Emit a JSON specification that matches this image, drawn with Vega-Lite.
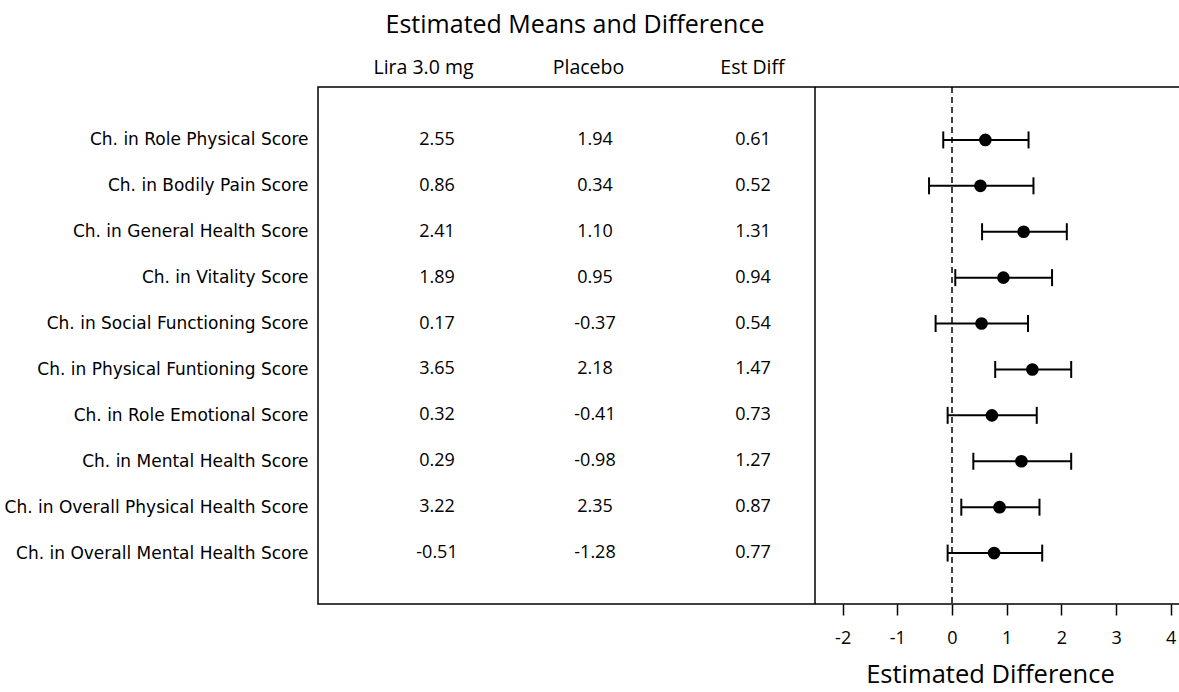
{
  "$schema": "https://vega.github.io/schema/vega-lite/v6.json",
  "width": 862,
  "height": 517,
  "autosize": {"type": "none"},
  "padding": {"left": 318, "top": 87, "right": 0, "bottom": 88},
  "background": "white",
  "title": {
    "text": "Estimated Means and Difference",
    "anchor": "middle",
    "frame": "group",
    "dx": -174,
    "offset": 19,
    "font": "Open Sans",
    "fontSize": 25,
    "fontWeight": "normal",
    "color": "black"
  },
  "config": {
    "locale": {"number": {"decimal": ".", "thousands": ",", "grouping": [3], "currency": ["$", ""], "minus": "-"}},
    "view": {"stroke": "black", "strokeWidth": 1.5},
    "axis": {"grid": false, "labelColor": "black", "titleColor": "black", "tickColor": "black", "domainColor": "black"}
  },
  "data": {
    "values": [
      {"label": "Ch. in Role Physical Score", "lira": 2.55, "placebo": 1.94, "diff": 0.61, "lo": -0.16, "hi": 1.40},
      {"label": "Ch. in Bodily Pain Score", "lira": 0.86, "placebo": 0.34, "diff": 0.52, "lo": -0.42, "hi": 1.49},
      {"label": "Ch. in General Health Score", "lira": 2.41, "placebo": 1.10, "diff": 1.31, "lo": 0.55, "hi": 2.10},
      {"label": "Ch. in Vitality Score", "lira": 1.89, "placebo": 0.95, "diff": 0.94, "lo": 0.06, "hi": 1.83},
      {"label": "Ch. in Social Functioning Score", "lira": 0.17, "placebo": -0.37, "diff": 0.54, "lo": -0.30, "hi": 1.39},
      {"label": "Ch. in Physical Funtioning Score", "lira": 3.65, "placebo": 2.18, "diff": 1.47, "lo": 0.79, "hi": 2.18},
      {"label": "Ch. in Role Emotional Score", "lira": 0.32, "placebo": -0.41, "diff": 0.73, "lo": -0.08, "hi": 1.55},
      {"label": "Ch. in Mental Health Score", "lira": 0.29, "placebo": -0.98, "diff": 1.27, "lo": 0.39, "hi": 2.18},
      {"label": "Ch. in Overall Physical Health Score", "lira": 3.22, "placebo": 2.35, "diff": 0.87, "lo": 0.17, "hi": 1.60},
      {"label": "Ch. in Overall Mental Health Score", "lira": -0.51, "placebo": -1.28, "diff": 0.77, "lo": -0.08, "hi": 1.65}
    ]
  },
  "resolve": {"scale": {"x": "independent"}, "axis": {"x": "independent"}},
  "layer": [
    {
      "transform": [{"fold": ["lira", "placebo", "diff"], "as": ["col", "val"]}],
      "mark": {"type": "text", "font": "Open Sans", "fontSize": 18, "color": "black", "align": "center", "baseline": "middle"},
      "encoding": {
        "x": {
          "field": "col",
          "type": "nominal",
          "scale": {"type": "point", "domain": ["lira", "placebo", "diff"], "range": [119, 435], "padding": 0},
          "axis": {
            "orient": "top",
            "title": null,
            "domain": false,
            "ticks": false,
            "labelPadding": 10,
            "labelAngle": 0,
            "labelFont": "Open Sans",
            "labelFontSize": 19.5,
            "labelExpr": "datum.value == 'lira' ? 'Lira 3.0 mg' : datum.value == 'placebo' ? 'Placebo' : 'Est Diff'",
            "labelOffset": {"expr": "datum.value == 'lira' ? -14 : datum.value == 'placebo' ? -7 : -1"}
          }
        },
        "y": {
          "field": "label",
          "type": "nominal",
          "sort": null,
          "scale": {"type": "point", "padding": 1, "range": [7, 512], "round": false},
          "axis": {
            "title": null,
            "domain": false,
            "ticks": false,
            "labelPadding": 10,
            "labelFont": "DejaVu Sans",
            "labelFontSize": 17,
            "labelLimit": 400
          }
        },
        "text": {"field": "val", "type": "quantitative", "format": ".2f"}
      }
    },
    {
      "layer": [
        {
          "data": {"values": [{"ref": 0}]},
          "mark": {"type": "rule", "color": "black", "strokeWidth": 1.5, "strokeDash": [6, 4]},
          "encoding": {
            "x": {
              "field": "ref",
              "type": "quantitative",
              "scale": {"domain": [-2.506, 4.152], "range": [497, 861], "nice": false, "zero": false},
              "axis": {
                "orient": "bottom",
                "values": [-2, -1, 0, 1, 2, 3, 4],
                "format": "d",
                "domain": false,
                "tickSize": 11,
                "tickWidth": 1.5,
                "labelFont": "Open Sans",
                "labelFontSize": 18,
                "labelPadding": 14,
                "title": "Estimated Difference",
                "titleFont": "Open Sans",
                "titleFontSize": 25.5,
                "titleFontWeight": "normal",
                "titlePadding": 15,
                "titleX": 672
              }
            }
          }
        },
        {
          "data": {"values": [{"edge": -2.506}]},
          "mark": {"type": "rule", "color": "black", "strokeWidth": 1.5},
          "encoding": {"x": {"field": "edge", "type": "quantitative"}}
        },
        {
          "mark": {"type": "rule", "color": "black", "strokeWidth": 2},
          "encoding": {
            "x": {"field": "lo", "type": "quantitative"},
            "x2": {"field": "hi"},
            "y": {"field": "label", "type": "nominal", "sort": null}
          }
        },
        {
          "mark": {"type": "tick", "color": "black", "size": 17, "thickness": 2, "orient": "vertical", "opacity": 1},
          "encoding": {
            "x": {"field": "lo", "type": "quantitative"},
            "y": {"field": "label", "type": "nominal", "sort": null}
          }
        },
        {
          "mark": {"type": "tick", "color": "black", "size": 17, "thickness": 2, "orient": "vertical", "opacity": 1},
          "encoding": {
            "x": {"field": "hi", "type": "quantitative"},
            "y": {"field": "label", "type": "nominal", "sort": null}
          }
        },
        {
          "mark": {"type": "circle", "color": "black", "size": 160, "opacity": 1},
          "encoding": {
            "x": {"field": "diff", "type": "quantitative"},
            "y": {"field": "label", "type": "nominal", "sort": null}
          }
        }
      ]
    }
  ]
}
